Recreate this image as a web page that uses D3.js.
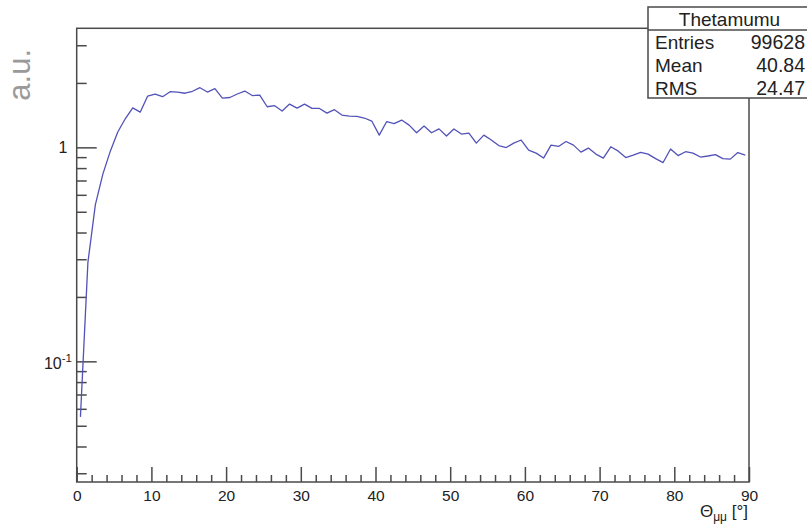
<!DOCTYPE html>
<html>
<head>
<meta charset="utf-8">
<script src="https://cdn.jsdelivr.net/npm/d3@7"></script>
<style>
  html, body { margin: 0; padding: 0; background: #fff; }
  svg { display: block; font-family: "Liberation Sans", Arial, sans-serif; }
</style>
</head>
<body>
<svg id="chart" width="807" height="525"></svg>
<script>
// Histogram "Thetamumu": 90 one-degree bins from 0 to 90 degrees, normalised (a.u.)
const binLow = d3.range(0, 90);   // lower edge of each bin, degrees
const counts = [
  0.055, 0.29, 0.54, 0.75, 0.96, 1.18, 1.36, 1.53, 1.46, 1.737,
  1.775, 1.725, 1.82, 1.813, 1.79, 1.828, 1.90, 1.813, 1.88, 1.70,
  1.71, 1.775, 1.833, 1.746, 1.755, 1.548, 1.565, 1.478, 1.593, 1.526,
  1.593, 1.52, 1.52, 1.445, 1.50, 1.415, 1.40, 1.394, 1.371, 1.327,
  1.14, 1.32, 1.29, 1.341, 1.27, 1.17, 1.257, 1.17, 1.22, 1.129,
  1.218, 1.154, 1.166, 1.047, 1.141, 1.082, 1.02, 0.998, 1.047, 1.082,
  0.971, 0.94, 0.891, 1.024, 1.01, 1.065, 1.024, 0.95, 0.992, 0.93,
  0.891, 1.006, 0.96, 0.896, 0.92, 0.948, 0.93, 0.886, 0.849, 0.982,
  0.915, 0.954, 0.94, 0.901, 0.911, 0.925, 0.886, 0.881, 0.945, 0.92
];
const xMajor = [0, 10, 20, 30, 40, 50, 60, 70, 80, 90];
const xMinor = d3.range(2, 90, 2).filter(v => v % 10 !== 0);
const yMajor = [0.1, 1];
const yMinor = [0.03, 0.04, 0.05, 0.06, 0.07, 0.08, 0.09,
                0.2, 0.3, 0.4, 0.5, 0.6, 0.7, 0.8, 0.9, 2, 3];
const statsTitle = "Thetamumu";
const statsRows = [["Entries", "99628"], ["Mean", "40.84"], ["RMS", "24.47"]];

const svg = d3.select("#chart");
const frame = { left: 76.7, right: 749, top: 28.3, bottom: 482 };
const axisColor = "#4a4a4a";
const textColor = "#222";

const x = d3.scaleLinear().domain([0, 90]).range([frame.left, frame.right]);
const y = d3.scaleLog().domain([0.0273, 3.6]).range([frame.bottom, frame.top]);

// frame box
svg.append("rect")
  .attr("x", frame.left).attr("y", frame.top)
  .attr("width", frame.right - frame.left).attr("height", frame.bottom - frame.top)
  .attr("fill", "none").attr("stroke", axisColor).attr("stroke-width", 1.5);

// x axis: ticks point inward (upward)
const gx = svg.append("g").attr("transform", `translate(0,${frame.bottom})`);
gx.call(d3.axisBottom(x).tickValues(xMajor).tickSize(-15).tickPadding(8)
  .tickFormat(d3.format("d")));
gx.append("g").call(d3.axisBottom(x).tickValues(xMinor).tickSize(-7).tickFormat(""));
gx.selectAll(".domain").remove();
gx.selectAll("line").attr("stroke", axisColor).attr("stroke-width", 1.5);
gx.selectAll("text").attr("fill", textColor).attr("font-size", 15.5)
  .attr("font-family", "Liberation Sans, Arial, sans-serif");

// y axis (log): ticks point inward (to the right)
const gy = svg.append("g").attr("transform", `translate(${frame.left},0)`);
gy.call(d3.axisLeft(y).tickValues(yMajor).tickSize(-20).tickFormat(""));
gy.append("g").call(d3.axisLeft(y).tickValues(yMinor).tickSize(-10).tickFormat(""));
gy.selectAll(".domain").remove();
gy.selectAll("line").attr("stroke", axisColor).attr("stroke-width", 1.5);

// y tick labels: 1 and 10^-1
svg.append("text").attr("x", 67.5).attr("y", y(1) + 6)
  .attr("text-anchor", "end").attr("font-size", 16).attr("fill", textColor).text("1");
const tenth = svg.append("text").attr("x", 72).attr("y", y(0.1) + 8)
  .attr("text-anchor", "end").attr("font-size", 16).attr("fill", textColor);
tenth.append("tspan").text("10");
tenth.append("tspan").attr("dy", -7).attr("font-size", 11.5).text("-1");

// axis titles
svg.append("text")
  .attr("transform", "translate(30,49) rotate(-90)")
  .attr("text-anchor", "end").attr("font-size", 31).attr("fill", "#9a9a9a")
  .text("a.u.");
const xt = svg.append("text").attr("x", 748).attr("y", 517)
  .attr("text-anchor", "end").attr("font-size", 17).attr("fill", textColor);
xt.append("tspan").text("\u0398");
xt.append("tspan").attr("dy", 4).attr("font-size", 12).text("\u03bc\u03bc");
xt.append("tspan").attr("dy", -4).text(" [\u00b0]");

// histogram drawn as a polyline through the bin centres
const line = d3.line()
  .x((d, i) => x(binLow[i] + 0.5))
  .y(d => y(d));
svg.append("path").datum(counts)
  .attr("d", line)
  .attr("fill", "none").attr("stroke", "#5252b8").attr("stroke-width", 1.3)
  .attr("stroke-linejoin", "round");

// statistics box
const box = svg.append("g");
box.append("rect").attr("x", 648).attr("y", 7).attr("width", 160).attr("height", 91)
  .attr("fill", "#fff").attr("stroke", axisColor).attr("stroke-width", 1.5);
box.append("line").attr("x1", 648).attr("x2", 808).attr("y1", 30).attr("y2", 30)
  .attr("stroke", axisColor).attr("stroke-width", 1.5);
box.append("text").attr("x", 729.5).attr("y", 25.5).attr("text-anchor", "middle")
  .attr("font-size", 19).attr("fill", textColor).text(statsTitle);
statsRows.forEach((r, i) => {
  const by = 48.5 + i * 23;
  box.append("text").attr("x", 655).attr("y", by).attr("font-size", 19)
    .attr("fill", textColor).text(r[0]);
  box.append("text").attr("x", 805).attr("y", by).attr("text-anchor", "end")
    .attr("font-size", 19.5).attr("fill", textColor).text(r[1]);
});
</script>
</body>
</html>
